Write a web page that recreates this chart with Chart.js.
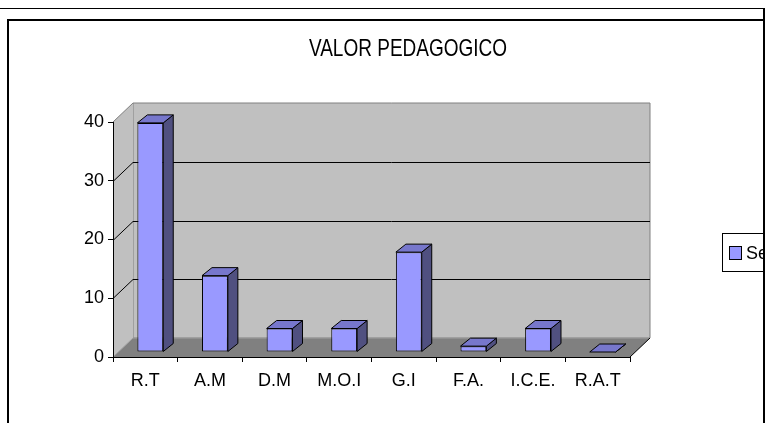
<!DOCTYPE html>
<html>
<head>
<meta charset="utf-8">
<script src="https://cdn.jsdelivr.net/npm/chart.js@4"></script>
<style>
  html, body { margin: 0; padding: 0; background: #fff; }
  canvas { display: block; }
</style>
</head>
<body>
<canvas id="chart" width="768" height="423"></canvas>
<script>
// data
const chartTitle = 'VALOR PEDAGOGICO';
const seriesName = 'Series1';
const categories = ['R.T', 'A.M', 'D.M', 'M.O.I', 'G.I', 'F.A.', 'I.C.E.', 'R.A.T'];
const values = [39, 13, 4, 4, 17, 1, 4, 0];
const yMin = 0;
const yMax = 40;
const yStep = 10;

const FONT = 'Liberation Sans, Arial, sans-serif';
const WALL = '#c0c0c0';
const FLOOR = '#808080';
const EDGE = '#808080';
const FRONT = '#9999ff';
const SIDE = '#505080';
const TOP = '#7777cc';

// depth of the floor / walls and of the bars
const depth = { dx: 20, dy: -19 };
const bar3d = { ox: 5, oy: -5, dx: 10, dy: -8 };

function line(ctx, pts, color, w) {
  ctx.beginPath();
  ctx.moveTo(pts[0][0], pts[0][1]);
  for (let i = 1; i < pts.length; i++) ctx.lineTo(pts[i][0], pts[i][1]);
  ctx.strokeStyle = color;
  ctx.lineWidth = w || 1;
  ctx.stroke();
}

function poly(ctx, pts, fill, stroke) {
  ctx.beginPath();
  ctx.moveTo(pts[0][0], pts[0][1]);
  for (let i = 1; i < pts.length; i++) ctx.lineTo(pts[i][0], pts[i][1]);
  ctx.closePath();
  ctx.fillStyle = fill;
  ctx.fill();
  if (stroke) {
    ctx.strokeStyle = stroke;
    ctx.lineWidth = 1;
    ctx.stroke();
  }
}

const excel3d = {
  id: 'excel3d',
  beforeDraw(chart) {
    const ctx = chart.ctx;
    const { left, right, top, bottom } = chart.chartArea;
    const ys = chart.scales.y;
    const dx = depth.dx, dy = depth.dy;

    ctx.save();
    ctx.fillStyle = '#fff';
    ctx.fillRect(0, 0, chart.width, chart.height);

    // back wall
    poly(ctx, [[left + dx, top + dy], [right + dx, top + dy], [right + dx, bottom + dy], [left + dx, bottom + dy]], WALL, EDGE);
    // side wall
    poly(ctx, [[left, top], [left + dx, top + dy], [left + dx, bottom + dy], [left, bottom]], WALL);
    line(ctx, [[left, top], [left + dx, top + dy]], EDGE);
    // floor
    poly(ctx, [[left, bottom], [right, bottom], [right + dx, bottom + dy], [left + dx, bottom + dy]], FLOOR);
    line(ctx, [[left + dx, bottom + dy], [right + dx, bottom + dy]], '#a0a0a0');
    line(ctx, [[left, bottom], [left + dx, bottom + dy]], '#a0a0a0');
    line(ctx, [[right, bottom], [right + dx, bottom + dy]], '#000');

    // gridlines on the walls
    for (let v = yMin + yStep; v < yMax; v += yStep) {
      const py = Math.round(ys.getPixelForValue(v)) + 0.5;
      line(ctx, [[left, py], [left + dx, py + dy], [right + dx, py + dy]], '#000');
    }

    // title
    ctx.save();
    ctx.translate(408, 50);
    ctx.scale(1, 1.22);
    ctx.fillStyle = '#000';
    ctx.font = '19px ' + FONT;
    ctx.textAlign = 'center';
    ctx.textBaseline = 'middle';
    ctx.fillText(chartTitle, 0, 0);
    ctx.restore();
    ctx.restore();
  },
  beforeDatasetsDraw(chart) {
    chart.ctx.save();
    chart.ctx.translate(bar3d.ox, bar3d.oy);
  },
  afterDatasetsDraw(chart) {
    const ctx = chart.ctx;
    const meta = chart.getDatasetMeta(0);
    meta.data.forEach((el) => {
      const { x, y, base, width } = el.getProps(['x', 'y', 'base', 'width'], true);
      const l = x - width / 2, r = x + width / 2;
      const dx = bar3d.dx, dy = bar3d.dy;
      poly(ctx, [[r, y], [r + dx, y + dy], [r + dx, base + dy], [r, base]], SIDE, '#000');
      poly(ctx, [[l, y], [r, y], [r + dx, y + dy], [l + dx, y + dy]], TOP, '#000');
    });
    ctx.restore();
  },
  afterDraw(chart) {
    const ctx = chart.ctx;
    ctx.save();
    // legend, cut at the frame
    ctx.beginPath();
    ctx.rect(0, 0, 764, chart.height);
    ctx.clip();
    ctx.fillStyle = '#fff';
    ctx.fillRect(722.5, 233.5, 80, 38);
    ctx.strokeStyle = '#000';
    ctx.lineWidth = 1;
    ctx.strokeRect(722.5, 233.5, 80, 38);
    ctx.fillStyle = FRONT;
    ctx.fillRect(729.5, 246.5, 12, 13);
    ctx.strokeRect(729.5, 246.5, 12, 13);
    ctx.fillStyle = '#000';
    ctx.font = '18px ' + FONT;
    ctx.textAlign = 'left';
    ctx.textBaseline = 'middle';
    ctx.fillText(seriesName, 746, 254);
    ctx.restore();

    // frames
    ctx.save();
    ctx.fillStyle = '#fff';
    ctx.fillRect(765, 0, 3, chart.height);
    line(ctx, [[0, 8.5], [764, 8.5]], '#000', 1);
    line(ctx, [[764, 8], [764, chart.height]], '#000', 2);
    line(ctx, [[8, 20], [764, 20]], '#000', 2);
    line(ctx, [[8, 19], [8, chart.height]], '#000', 2);
    ctx.restore();
  },
};

new Chart(document.getElementById('chart'), {
  type: 'bar',
  data: {
    labels: categories,
    datasets: [{
      label: seriesName,
      data: values,
      backgroundColor: FRONT,
      borderColor: '#000',
      borderWidth: 1,
      borderSkipped: false,
      barPercentage: 0.4,
      categoryPercentage: 1,
      clip: false,
    }],
  },
  options: {
    responsive: false,
    devicePixelRatio: 1,
    animation: false,
    layout: { padding: { left: 0, right: 138, top: 122, bottom: 0 } },
    plugins: {
      legend: { display: false },
      title: { display: false },
      tooltip: { enabled: false },
    },
    scales: {
      x: {
        afterFit: (s) => { s.height = 66; },
        grid: { offset: true, drawOnChartArea: false, drawTicks: true, tickLength: 5, color: '#000' },
        border: { display: true, color: '#000', width: 1 },
        ticks: { color: '#000', font: { family: FONT, size: 18 }, padding: 8, maxRotation: 0, autoSkip: false },
      },
      y: {
        min: yMin,
        max: yMax,
        afterFit: (s) => { s.width = 113; },
        grid: { drawOnChartArea: false, drawTicks: true, tickLength: 5, color: '#000' },
        border: { display: true, color: '#000', width: 1 },
        ticks: { stepSize: yStep, color: '#000', font: { family: FONT, size: 18 }, padding: 4 },
      },
    },
  },
  plugins: [excel3d],
});
</script>
</body>
</html>
